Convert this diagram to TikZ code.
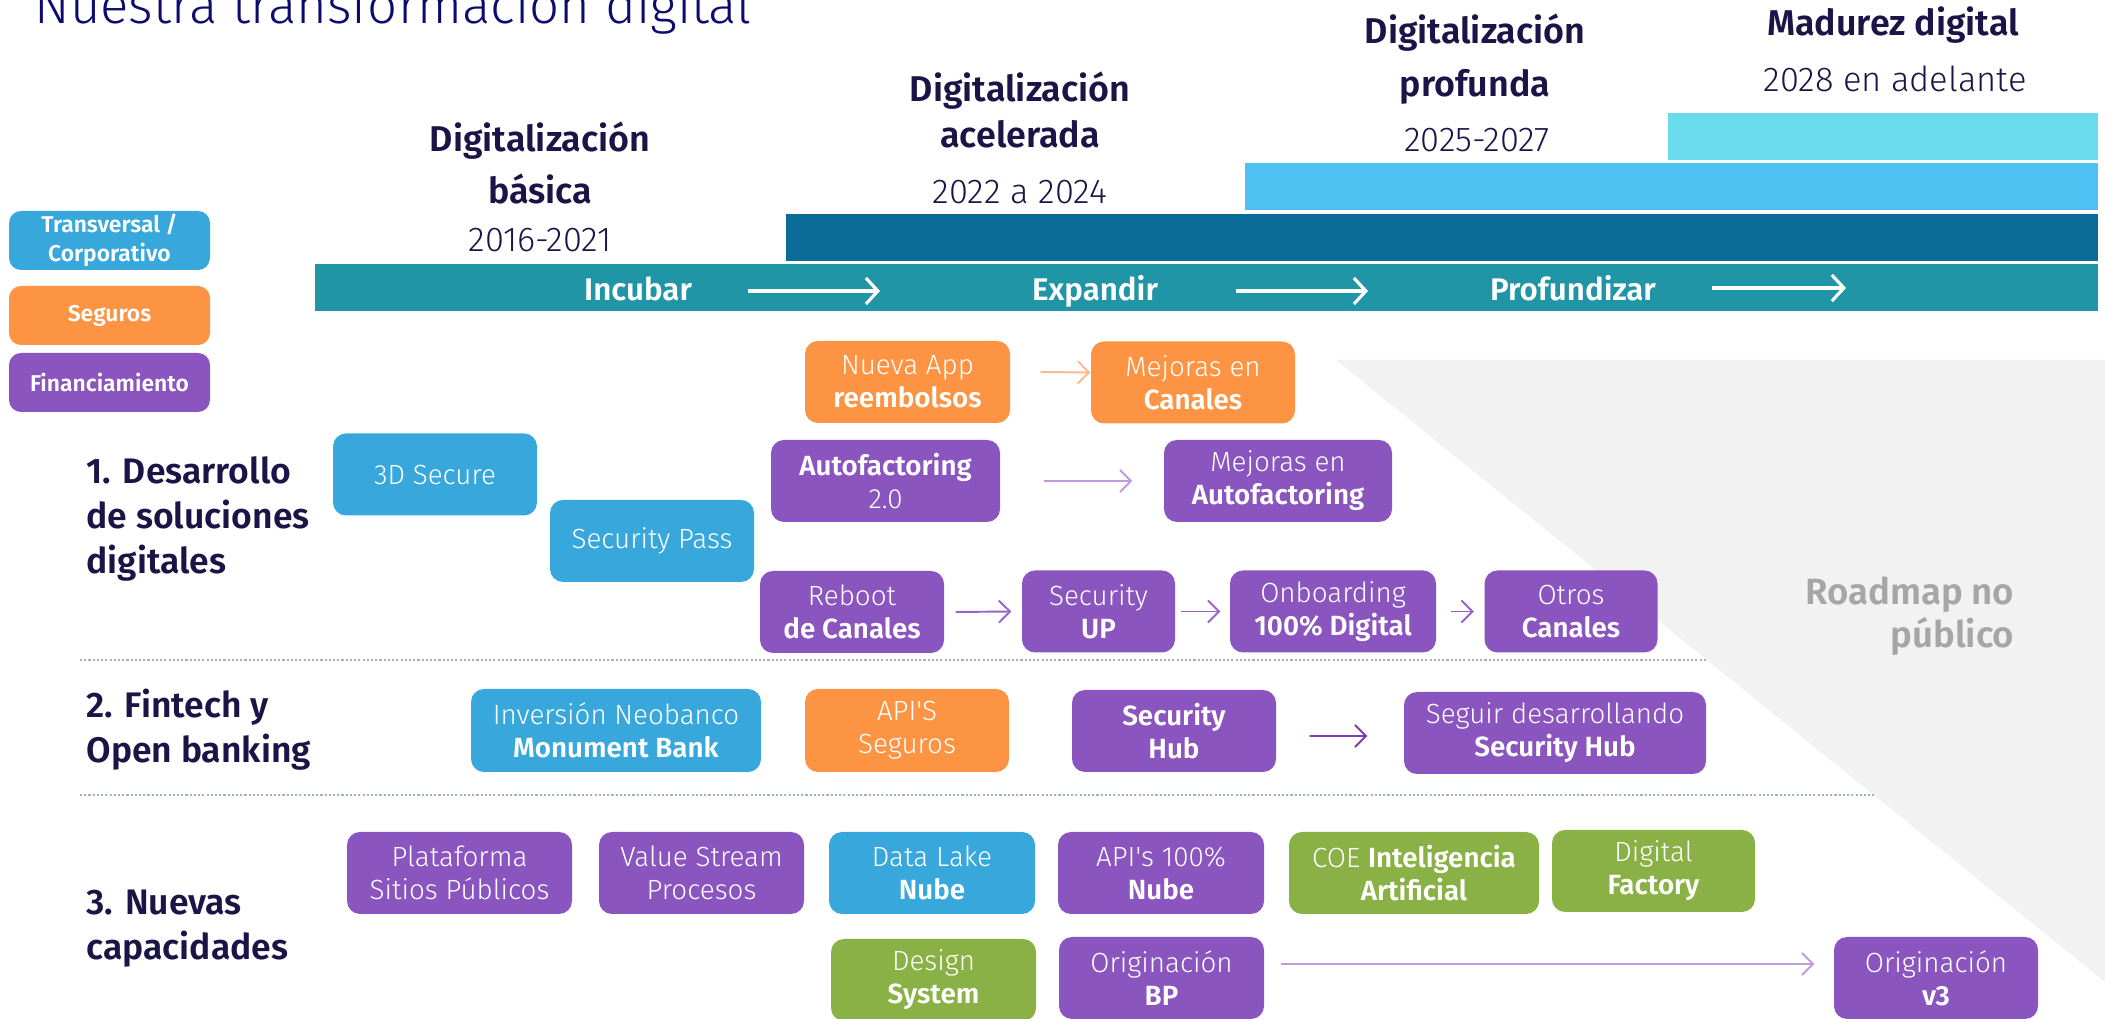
\documentclass[tikz,border=0pt]{standalone}
\usepackage{fontspec}
\setmainfont{Fira Sans Light}[BoldFont=Fira Sans SemiBold]
\usetikzlibrary{arrows.meta}

\definecolor{titulo}{RGB}{12,12,110}
\definecolor{oscuro}{RGB}{27,20,70}
\definecolor{azulcaja}{RGB}{56,168,220}
\definecolor{naranja}{RGB}{253,148,68}
\definecolor{morado}{RGB}{138,85,190}
\definecolor{verdecaja}{RGB}{138,177,69}
\definecolor{barteal}{RGB}{31,149,166}
\definecolor{barazul}{RGB}{11,108,152}
\definecolor{barceleste}{RGB}{79,192,242}
\definecolor{barcian}{RGB}{105,219,236}
\definecolor{grisfondo}{RGB}{242,242,242}
\definecolor{gristexto}{RGB}{166,166,166}
\definecolor{separador}{RGB}{157,180,198}
\definecolor{naranjaclaro}{RGB}{252,184,138}
\definecolor{moradoclaro}{RGB}{190,156,222}
\definecolor{moradomedio}{RGB}{150,100,200}
\definecolor{moradofuerte}{RGB}{125,63,176}

% apostrofo recto
\newcommand{\apos}{{\addfontfeature{Ligatures=TeXOff}'}}

\begin{document}
\begin{tikzpicture}[x=0.1mm, y=-0.1mm,
  caja/.style={rounded corners=1.3mm, minimum height=8.2mm, inner sep=0pt, text=white, align=center, font=\fontsize{7.9}{9.4}\selectfont},
  trans/.style={caja, fill=azulcaja},
  seg/.style={caja, fill=naranja},
  fin/.style={caja, fill=morado},
  verde/.style={caja, fill=verdecaja},
  leyenda/.style={rounded corners=1.2mm, minimum width=20.1mm, minimum height=5.9mm, inner sep=0pt, text=white, align=center, font=\bfseries\fontsize{6.5}{8.3}\selectfont},
  fase/.style={anchor=base, inner sep=0pt, text=oscuro, font=\bfseries\fontsize{10.2}{12}\selectfont},
  anio/.style={anchor=base, inner sep=0pt, text=oscuro, font=\fontsize{9.8}{11}\selectfont},
  etapa/.style={anchor=base, inner sep=0pt, text=white, font=\bfseries\fontsize{8.9}{10}\selectfont},
  seccion/.style={anchor=base west, inner sep=0pt, align=left, text=oscuro, font=\bfseries\fontsize{10.1}{12.9}\selectfont},
  flecha/.style={-{Straight Barb[length=1.1mm, width=2.2mm]}, line width=0.55pt},
  avance/.style={-{Straight Barb[length=1.2mm, width=2.6mm]}, line width=0.9pt, white},
  sep/.style={separador, line width=0.6pt, dash pattern=on 0.6pt off 0.6pt}]
  \useasboundingbox (0,0) rectangle (2105,1019);

  % fondo del roadmap no publico
  \fill[grisfondo] (1336,360) -- (2105,360) -- (2105,982) -- cycle;

  % titulo
  \node[anchor=base west, inner sep=0pt, text=titulo, font=\fontsize{15}{17}\selectfont] (tit) at (34,24) {Nuestra transformación digital};

  % barras de etapas
  \fill[barcian] (1668,113) rectangle (2098,160);
  \fill[barceleste] (1245,163) rectangle (2098,210);
  \fill[barazul] (786,214) rectangle (2098,261);
  \fill[barteal] (315,264) rectangle (2098,311);

  \node[fase] (basica1) at (540,152) {Digitalización};
  \node[fase] (basica2) at (540,204) {básica};
  \node[anio] (basica3) at (540,252) {2016-2021};
  \node[fase] (acel1) at (1020,102) {Digitalización};
  \node[fase] (acel2) at (1020,148) {acelerada};
  \node[anio] (acel3) at (1020,204) {2022 a 2024};
  \node[fase] (prof1) at (1475,44) {Digitalización};
  \node[fase] (prof2) at (1475,97) {profunda};
  \node[anio] (prof3) at (1477,152) {2025-2027};
  \node[fase] (madurez1) at (1893,36) {Madurez digital};
  \node[anio] (madurez2) at (1895,92) {2028 en adelante};

  \node[etapa] (incubar) at (638,301) {Incubar};
  \node[etapa] (expandir) at (1095,301) {Expandir};
  \node[etapa] (profundizar) at (1573,301) {Profundizar};
  \coordinate (av1a) at (748,291);
  \coordinate (av1b) at (880,291);
  \coordinate (av2a) at (1236,291);
  \coordinate (av2b) at (1368,291);
  \coordinate (av3a) at (1712,288);
  \coordinate (av3b) at (1846,288);
  \draw[avance] (av1a) -- (av1b);
  \draw[avance] (av2a) -- (av2b);
  \draw[avance] (av3a) -- (av3b);

  % leyenda
  \node[leyenda, fill=azulcaja] (legtrans) at (109.5,240.5) {Transversal /\\Corporativo};
  \node[leyenda, fill=naranja] (legseg) at (109.5,315.5) {Seguros};
  \node[leyenda, fill=morado] (legfin) at (109.5,382.5) {Financiamiento};

  % separadores
  \draw[sep] (80,660) -- (1707,660);
  \draw[sep] (80,795) -- (1874,795);

  % secciones (anclados en la ultima linea)
  \node[seccion] (sec1) at (86,574) {1. Desarrollo\\de soluciones\\digitales};
  \node[seccion] (sec2) at (86,763) {2. Fintech y\\Open banking};
  \node[seccion] (sec3) at (86,960) {3. Nuevas\\capacidades};

  \node[anchor=base east, align=right, inner sep=0pt, text=gristexto, font=\bfseries\fontsize{10.4}{12.3}\selectfont] (roadmap) at (2015,648) {Roadmap no\\público};

  % 1. desarrollo de soluciones digitales
  \node[trans, minimum width=20.4mm] (secure) at (435,474.5) {3D Secure};
  \node[trans, minimum width=20.4mm] (secpass) at (652,541) {Security Pass};
  \node[seg, minimum width=20.5mm] (nuevaapp) at (907.5,382) {Nueva App\\\textbf{reembolsos}};
  \node[seg, minimum width=20.4mm] (mejcanales) at (1193,382.5) {Mejoras en\\\textbf{Canales}};
  \node[fin, minimum width=22.9mm] (autof) at (885.5,481) {\textbf{Autofactoring}\\2.0};
  \node[fin, minimum width=22.8mm] (mejautof) at (1278,481) {Mejoras en\\\textbf{Autofactoring}};
  \node[fin, minimum width=18.4mm] (reboot) at (852,612) {Reboot\\\textbf{de Canales}};
  \node[fin, minimum width=15.3mm] (secup) at (1098.5,611.5) {Security\\\textbf{UP}};
  \node[fin, minimum width=20.6mm] (onboard) at (1333,611.5) {Onboarding\\\textbf{100\% Digital}};
  \node[fin, minimum width=17.3mm] (otros) at (1571,611.5) {Otros\\\textbf{Canales}};

  \draw[flecha, naranjaclaro] ([xshift=3mm, yshift=1mm]nuevaapp.east) -- ([yshift=1mm]mejcanales.west);
  \draw[flecha, moradoclaro] ([xshift=4.3mm]autof.east) -- ([xshift=-3.1mm]mejautof.west);
  \draw[flecha, moradomedio] ([xshift=1.1mm]reboot.east) -- ([xshift=-1mm]secup.west);
  \draw[flecha, moradomedio] ([xshift=0.5mm]secup.east) -- ([xshift=-0.9mm]onboard.west);
  \draw[flecha, moradomedio] ([xshift=1.4mm]onboard.east) -- ([xshift=-1mm]otros.west);

  % 2. fintech y open banking
  \node[trans, minimum width=29mm, minimum height=8.3mm] (neobanco) at (616,730.5) {Inversión Neobanco\\\textbf{Monument Bank}};
  \node[seg, minimum width=20.4mm, minimum height=8.3mm] (apis) at (907,730.5) {API\apos S\\Seguros};
  \node[fin, minimum width=20.4mm] (sechub) at (1174,731) {\textbf{Security}\\\textbf{Hub}};
  \node[fin, minimum width=30.2mm] (seguir) at (1555,733) {Seguir desarrollando\\\textbf{Security Hub}};

  \draw[flecha, moradofuerte] ([xshift=3.3mm, yshift=-0.5mm]sechub.east) -- ([xshift=-3.6mm, yshift=-0.3mm]seguir.west);

  % 3. nuevas capacidades
  \node[fin, minimum width=22.5mm] (plataforma) at (459.5,873) {Plataforma\\Sitios Públicos};
  \node[fin, minimum width=20.5mm] (valuestream) at (701.5,873) {Value Stream\\Procesos};
  \node[trans, minimum width=20.6mm] (datalake) at (932,873) {Data Lake\\\textbf{Nube}};
  \node[fin, minimum width=20.6mm] (apis100) at (1161,873) {API\apos s 100\%\\\textbf{Nube}};
  \node[verde, minimum width=25mm] (coe) at (1414,873) {COE \textbf{Inteligencia}\\\textbf{Artificial}};
  \node[verde, minimum width=20.3mm] (digfactory) at (1653.5,871) {Digital\\\textbf{Factory}};
  \node[verde, minimum width=20.5mm] (design) at (933.5,980) {Design\\\textbf{System}};
  \node[fin, minimum width=20.5mm] (origbp) at (1161.5,978) {Originación\\\textbf{BP}};
  \node[fin, minimum width=20.4mm] (origv3) at (1936,978) {Originación\\\textbf{v3}};

  \draw[flecha, moradoclaro] ([xshift=1.6mm, yshift=1.4mm]origbp.east) -- ([xshift=-1.9mm, yshift=1.4mm]origv3.west);
\end{tikzpicture}
\end{document}
